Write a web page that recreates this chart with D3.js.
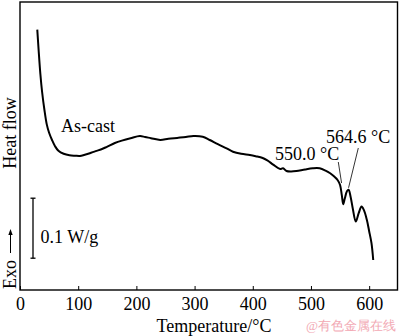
<!DOCTYPE html>
<html>
<head>
<meta charset="utf-8">
<script src="https://cdn.jsdelivr.net/npm/d3@7"></script>
<style>
  html, body { margin: 0; padding: 0; background: #fff; }
  svg { display: block; }
  text { font-family: "Liberation Serif", "Times New Roman", serif; }
</style>
</head>
<body>
<script>
// ---- data ----
const temperature = [29.7, 32, 35, 38, 42, 46, 50, 55, 60, 66, 75, 85, 95, 103, 110, 120, 130, 140, 150, 163, 175, 190, 206, 215, 225, 241, 255, 270, 285, 298, 314, 326, 340, 355, 366, 380, 395, 405, 417, 425, 435, 447, 452, 458, 466, 475, 490, 503, 515, 525, 533, 540, 546, 550, 553, 555.5, 558, 562, 564.6, 568, 572, 577, 582, 587, 591, 596, 600, 604, 607];
const heatFlow = [0.434, 0.400, 0.360, 0.330, 0.300, 0.276, 0.262, 0.250, 0.240, 0.232, 0.227, 0.2245, 0.2238, 0.2235, 0.225, 0.228, 0.2315, 0.2345, 0.239, 0.245, 0.249, 0.253, 0.2565, 0.255, 0.253, 0.250, 0.252, 0.2535, 0.255, 0.2567, 0.2555, 0.250, 0.243, 0.236, 0.2305, 0.227, 0.225, 0.223, 0.220, 0.216, 0.209, 0.2017, 0.203, 0.1983, 0.1975, 0.1983, 0.201, 0.2028, 0.2028, 0.199, 0.1945, 0.189, 0.183, 0.175, 0.158, 0.143, 0.152, 0.165, 0.167, 0.156, 0.135, 0.114, 0.128, 0.139, 0.133, 0.117, 0.098, 0.078, 0.050];
const xTicks = [0, 100, 200, 300, 400, 500, 600];
const peakTemps = [550.0, 564.6];
const peakLabels = ["550.0 °C", "564.6 °C"];
const scaleBarValue = 0.1;
const scaleBarLabel = "0.1 W/g";
const seriesLabel = "As-cast";
const xTitle = "Temperature/°C";
const yTitle = "Heat flow";
const exoLabel = "Exo";
const watermark = "@有色金属在线";

// ---- layout ----
const W = 400, H = 336;
const mLeft = 20, mRight = 397.5, mTop = 2, mBottom = 290;
const FS = 18;

const svg = d3.select("body").append("svg").attr("width", W).attr("height", H);

const x = d3.scaleLinear().domain([0, 648.7]).range([mLeft, mRight]);
const y = d3.scaleLinear().domain([0, 0.48]).range([mBottom, mTop]);

// frame
svg.append("rect").attr("x", mLeft).attr("y", mTop)
  .attr("width", mRight - mLeft).attr("height", mBottom - mTop)
  .attr("fill", "none").attr("stroke", "#000").attr("stroke-width", 1.4);

// x axis ticks (inward) + labels
const xAxis = d3.axisBottom(x).tickValues(xTicks).tickSize(-4).tickPadding(10).tickFormat(d3.format("d"));
const gx = svg.append("g").attr("transform", `translate(0,${mBottom})`).call(xAxis);
gx.select(".domain").remove();
gx.selectAll(".tick line").attr("stroke", "#000").attr("stroke-width", 1);
gx.selectAll(".tick text").attr("font-size", FS).attr("fill", "#000")
  .attr("font-family", "Liberation Serif, serif").attr("dy", "0.55em");

// curve
const pts = temperature.map((t, i) => [t, heatFlow[i]]);
const line = d3.line().x(d => x(d[0])).y(d => y(d[1])).curve(d3.curveCatmullRom.alpha(0.5));
svg.append("path").datum(pts).attr("d", line)
  .attr("fill", "none").attr("stroke", "#000").attr("stroke-width", 2).attr("stroke-linejoin", "round");

// series label
svg.append("text").attr("x", 61).attr("y", 132).attr("font-size", FS).text(seriesLabel);

// peak annotations
const interp = t => {
  for (let i = 0; i < temperature.length - 1; i++) {
    if (t >= temperature[i] && t <= temperature[i + 1]) {
      const f = (t - temperature[i]) / (temperature[i + 1] - temperature[i]);
      return heatFlow[i] + f * (heatFlow[i + 1] - heatFlow[i]);
    }
  }
  return heatFlow[heatFlow.length - 1];
};
const annoText = [{x: 275, y: 160}, {x: 326, y: 143}];
const annoStart = [{x: 338.3, y: 162}, {x: 358.3, y: 148}];
peakTemps.forEach((t, i) => {
  svg.append("text").attr("x", annoText[i].x).attr("y", annoText[i].y)
    .attr("font-size", FS).text(peakLabels[i]);
  svg.append("line")
    .attr("x1", annoStart[i].x).attr("y1", annoStart[i].y)
    .attr("x2", x(t) + (i === 0 ? 1.5 : 0)).attr("y2", y(interp(t)) - 2)
    .attr("stroke", "#000").attr("stroke-width", 0.8);
});

// scale bar
const sbX = 33, sbBase = 0.053;
const sb = svg.append("g").attr("stroke", "#000").attr("stroke-width", 1.3);
sb.append("line").attr("x1", sbX).attr("x2", sbX).attr("y1", y(sbBase)).attr("y2", y(sbBase + scaleBarValue));
sb.append("line").attr("x1", sbX - 2.5).attr("x2", sbX + 2.5).attr("y1", y(sbBase)).attr("y2", y(sbBase));
sb.append("line").attr("x1", sbX - 2.5).attr("x2", sbX + 2.5).attr("y1", y(sbBase + scaleBarValue)).attr("y2", y(sbBase + scaleBarValue));
svg.append("text").attr("x", 40.5).attr("y", 243).attr("font-size", FS).text(scaleBarLabel);

// y titles
svg.append("text").attr("transform", "translate(16,133) rotate(-90)")
  .attr("text-anchor", "middle").attr("font-size", FS).text(yTitle);
svg.append("text").attr("transform", "translate(16,289) rotate(-90)")
  .attr("text-anchor", "start").attr("font-size", FS).text(exoLabel);
// exo arrow
svg.append("line").attr("x1", 10.5).attr("x2", 10.5).attr("y1", 253).attr("y2", 233)
  .attr("stroke", "#000").attr("stroke-width", 1);
svg.append("path").attr("d", "M10.5,229 L8.3,235 L12.7,235 Z").attr("fill", "#000");

// x title
svg.append("text").attr("x", 214).attr("y", 332).attr("text-anchor", "middle")
  .attr("font-size", FS).text(xTitle);

// watermark
svg.append("text").attr("x", 396).attr("y", 330).attr("text-anchor", "end")
  .attr("font-size", 13).attr("fill", "#f2a9b4")
  .attr("font-family", "Noto Sans CJK SC, sans-serif").text(watermark);
</script>
</body>
</html>
